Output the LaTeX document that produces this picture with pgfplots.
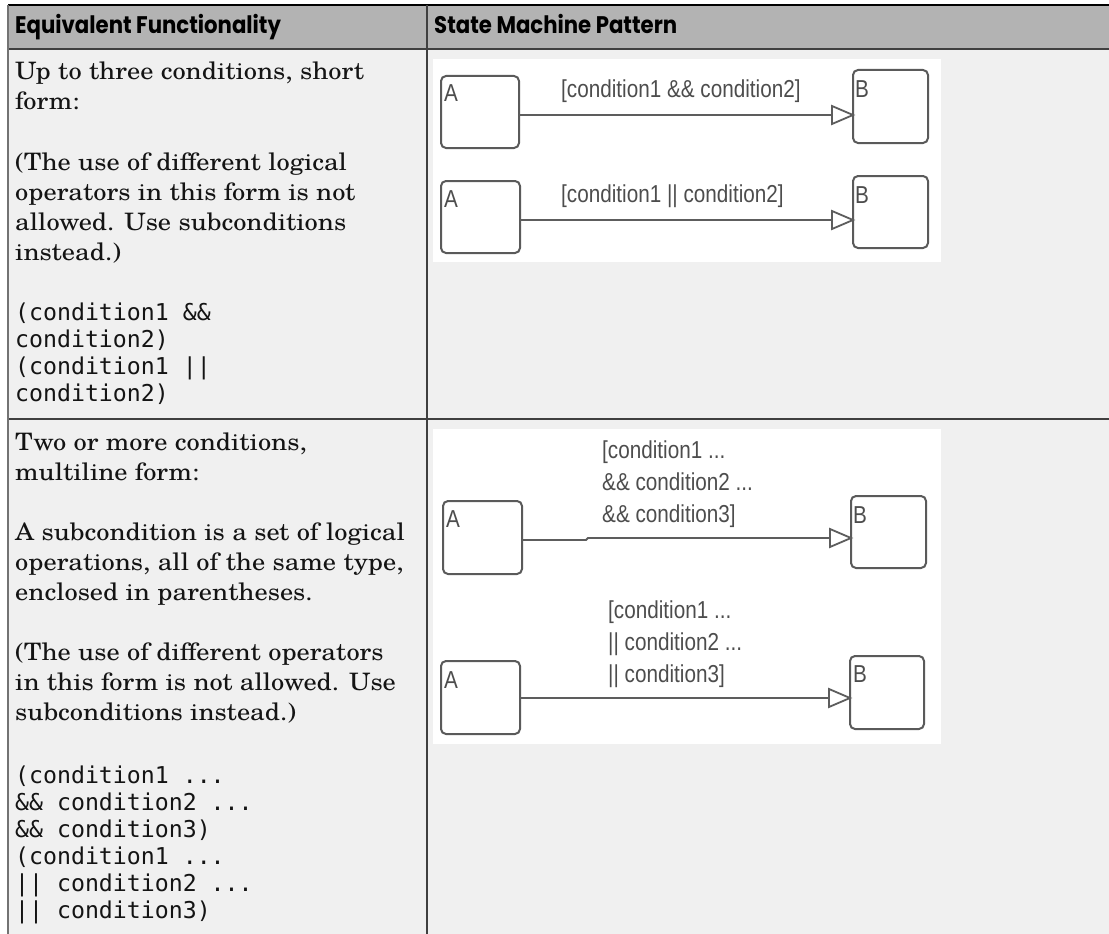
\documentclass[border=0pt]{standalone}
\usepackage{pgfplots}
\pgfplotsset{compat=1.18}
\usepackage{fontspec}
\setmainfont{TeX Gyre Schola}[FakeStretch=1.10]
\newfontfamily\mono{DejaVu Sans Mono}
\newfontfamily\diag[FakeStretch=0.845]{Liberation Sans}
\newfontfamily\hdr[FakeStretch=0.885]{Poppins Bold}
\definecolor{hdrgray}{HTML}{B3B3B3}
\definecolor{bodygray}{HTML}{F0F0F0}
\definecolor{rule}{HTML}{404040}
\definecolor{boxc}{HTML}{5A5A5A}
\definecolor{dtext}{HTML}{4D4D4D}
\begin{document}
\begin{tikzpicture}
\begin{axis}[width=1109pt, height=934pt, scale only axis,
  xmin=0, xmax=1109, ymin=0, ymax=934, y dir=reverse,
  hide axis, clip=false]
% backgrounds
\fill[white] (0,0) rectangle (1109,934);
\fill[hdrgray] (8,5) rectangle (1109,49);
\fill[bodygray] (8,49) rectangle (1109,934);
\fill[white] (433,59) rectangle (941,262);
\fill[white] (433,429) rectangle (941,744);
% rules
\draw[black, line width=1.5pt] (8,5) -- (1109,5);
\draw[rule, line width=1.5pt] (8,49) -- (1109,49);
\draw[rule, line width=1.2pt] (8,419) -- (1109,419);
\draw[rule, line width=1.2pt] (427,5) -- (427,934);
\draw[black!55, line width=2pt] (8,5) -- (8,934);
% styles
\tikzset{hd/.style={anchor=base west, inner sep=0pt, font=\hdr\fontsize{24}{28}\selectfont},
  tx/.style={anchor=base west, inner sep=0pt, font=\fontsize{24}{30}\selectfont, text=black!92},
  mo/.style={anchor=base west, inner sep=0pt, font=\mono\fontsize{23.2}{27}\selectfont, text=black!92},
  dg/.style={anchor=base west, inner sep=0pt, font=\diag\fontsize{24.5}{30}\selectfont, text=dtext},
  st/.style={boxc, line width=2pt, rounded corners=5pt},
  ar/.style={rule!85, line width=1.8pt}}
\node[hd] at (15,34) {Equivalent Functionality};
\node[hd] at (434,34) {State Machine Pattern};
% row 1 text
\node[tx] at (15,80) {Up to three conditions, short};
\node[tx] at (15,110) {form:};
\node[tx] at (15,170) {(The use of different logical};
\node[tx] at (15,200) {operators in this form is not};
\node[tx] at (15,230) {allowed. Use subconditions};
\node[tx] at (15,260) {instead.)};
\node[mo] at (15,320) {(condition1 \&\&};
\node[mo] at (15,347) {condition2)};
\node[mo] at (15,374) {(condition1 ||};
\node[mo] at (15,401) {condition2)};
% row 2 text
\node[tx] at (15,450) {Two or more conditions,};
\node[tx] at (15,480) {multiline form:};
\node[tx] at (15,540) {A subcondition is a set of logical};
\node[tx] at (15,570) {operations, all of the same type,};
\node[tx] at (15,600) {enclosed in parentheses.};
\node[tx] at (15,660) {(The use of different operators};
\node[tx] at (15,690) {in this form is not allowed. Use};
\node[tx] at (15,720) {subconditions instead.)};
\node[mo] at (15,783) {(condition1 ...};
\node[mo] at (15,810) {\&\& condition2 ...};
\node[mo] at (15,837) {\&\& condition3)};
\node[mo] at (15,864) {(condition1 ...};
\node[mo] at (15,891) {|| condition2 ...};
\node[mo] at (15,918) {|| condition3)};
% diagram 1
\draw[st] (441,76) rectangle (519,148);
\draw[st] (853,70) rectangle (928,143);
\draw[ar] (519,115) -- (832,115);
\draw[ar, fill=white, line join=miter] (853,115) -- (832,106) -- (832,124) -- cycle;
\node[dg] at (444,102) {A};
\node[dg] at (855,98) {B};
\node[dg] at (561,97) {[condition1 \&\& condition2]};
\draw[st] (441,181) rectangle (520,253);
\draw[st] (853,176) rectangle (928,248);
\draw[ar] (520,220) -- (832,220);
\draw[ar, fill=white, line join=miter] (853,220) -- (832,211) -- (832,229) -- cycle;
\node[dg] at (444,207) {A};
\node[dg] at (855,203) {B};
\node[dg] at (561,202) {[condition1 || condition2]};
% diagram 2
\draw[st] (443,501) rectangle (522,574);
\draw[st] (851,496) rectangle (926,568);
\draw[ar] (522,540) -- (586,540) -- (588,538) -- (830,538);
\draw[ar, fill=white, line join=miter] (851,538) -- (830,529) -- (830,547) -- cycle;
\node[dg] at (446,527) {A};
\node[dg] at (853,523) {B};
\node[dg] at (602,458) {[condition1 ...};
\node[dg] at (602,490) {\&\& condition2 ...};
\node[dg] at (602,522) {\&\& condition3]};
\draw[st] (441,661) rectangle (520,734);
\draw[st] (850,656) rectangle (924,729);
\draw[ar] (520,698) -- (829,698);
\draw[ar, fill=white, line join=miter] (850,698) -- (829,689) -- (829,707) -- cycle;
\node[dg] at (444,688) {A};
\node[dg] at (853,682) {B};
\node[dg] at (608,618) {[condition1 ...};
\node[dg] at (608,650) {|| condition2 ...};
\node[dg] at (608,682) {|| condition3]};
\end{axis}
\pgfresetboundingbox
\path[use as bounding box] (current axis.south west) rectangle (current axis.north east);
\end{tikzpicture}
\end{document}
